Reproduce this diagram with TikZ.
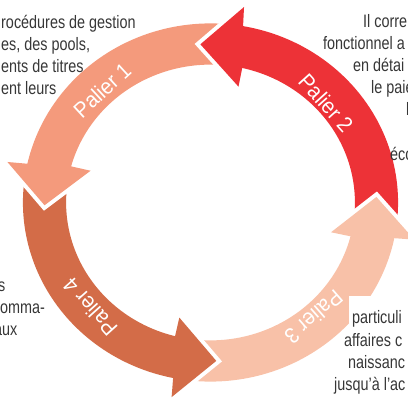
\documentclass[tikz,border=0pt]{standalone}
\usepackage{fontspec}
\setmainfont{Liberation Sans}[FakeStretch=0.8]
\newfontfamily\palierfont{Liberation Sans}[FakeStretch=0.92]
\definecolor{cone}{RGB}{244,154,124}
\definecolor{ctwo}{RGB}{237,50,55}
\definecolor{cthree}{RGB}{248,193,168}
\definecolor{cfour}{RGB}{211,108,72}
\definecolor{textgray}{RGB}{55,55,55}
\newcommand\ringband[3]{%
  \fill[#1] plot[domain=#2:#3,samples=60] ({cos(\x)*1.13},{sin(\x)*1.13})
    -- plot[domain=#3:#2,samples=60] ({cos(\x)*0.87},{sin(\x)*0.87}) -- cycle;}
\newcommand\ringhead[2]{%
  \draw[white,line width=8pt,line join=miter]
    ({cos(#2-12.8)*1.25},{sin(#2-12.8)*1.25}) -- ({cos(#2)},{sin(#2)})
    -- ({cos(#2-16.5)*0.75},{sin(#2-16.5)*0.75});
  \fill[#1] ({cos(#2-13.5)*1.13},{sin(#2-13.5)*1.13})
    -- ({cos(#2-12.8)*1.25},{sin(#2-12.8)*1.25})
    -- ({cos(#2)},{sin(#2)})
    -- ({cos(#2-16.5)*0.75},{sin(#2-16.5)*0.75})
    -- ({cos(#2-16.2)*0.87},{sin(#2-16.2)*0.87}) -- cycle;}
\begin{document}
\begin{tikzpicture}[x=1pt,y=1pt,
  txt/.style={anchor=base west,inner sep=0pt,text=textgray,font=\fontsize{18}{22}\selectfont},
  pal/.style={inner sep=0pt,text=white,font=\palierfont\fontsize{22}{24}\selectfont}]
\useasboundingbox (0,0) rectangle (408,399);
\clip (0,0) rectangle (408,399);
\begin{scope}[shift={(210.5pt,196.5pt)},x=166pt,y=158.5pt]
  % bands (tails under the previous heads)
  \ringband{cthree}{262}{351}
  \ringband{ctwo}{-8}{82.5}
  \ringband{cone}{83.5}{170}
  \ringband{cfour}{171}{261}
  % heads
  \ringhead{cthree}{362}
  \ringhead{ctwo}{93.5}
  \ringhead{cone}{181}
  \ringhead{cfour}{272}
\end{scope}
% white ground of the lower right text
\fill[white] (349,69) rectangle (408,103);
% labels on the arrows
\node[pal,rotate=42.6] (p1) at (102,309) {Palier 1};
\node[pal,rotate=-48] (p2) at (326,296) {Palier 2};
\node[pal,rotate=221] (p3) at (314,82) {Palier 3};
\node[pal,rotate=132] (p4) at (90,92) {Palier 4};
% top-left text
\node[txt] (tl1) at (1,370.7) {rocédures de gestion};
\node[txt] (tl2) at (1,348.5) {es, des pools,};
\node[txt] (tl3) at (1,326.3) {ents de titres};
\node[txt] (tl4) at (1,304.1) {ent leurs};
% top-right text
\node[txt] (tr1) at (363,371.5) {Il corre};
\node[txt] (tr2) at (323,349.4) {fonctionnel a};
\node[txt] (tr3) at (353,327.3) {en détai};
\node[txt] (tr4) at (371,305.2) {le paie};
\node[txt] (tr5) at (406,283.1) {l};
\node[txt] (tr7) at (390,238.9) {éco};
% bottom-left text
\node[txt] (bl1) at (-2,107) {s};
\node[txt] (bl2) at (0,85) {omma-};
\node[txt] (bl3) at (-6,63) {aux};
% bottom-right text
\node[txt] (br1) at (352,75) {particuli};
\node[txt] (br2) at (344,52.5) {affaires c};
\node[txt] (br3) at (348,30.3) {naissanc};
\node[txt] (br4) at (334,8.2) {jusqu’à l’ac};
\end{tikzpicture}
\end{document}
